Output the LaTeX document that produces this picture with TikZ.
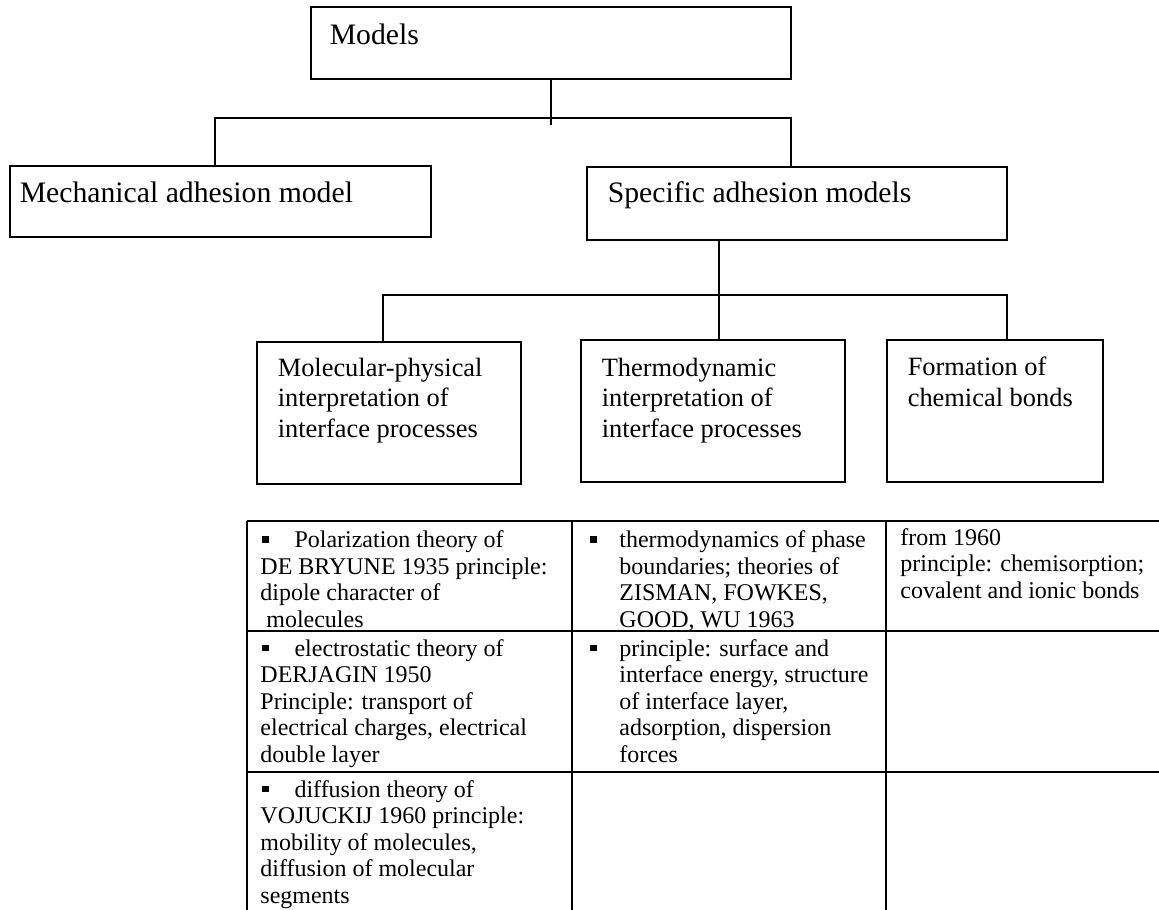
\documentclass[tikz,border=0pt]{standalone}
\usepackage{fontspec}
\setmainfont{Liberation Serif}
\usetikzlibrary{fit, positioning}
\tikzset{
	modelbox/.style={draw, line width=0.6pt, inner sep=0pt}
}
\tikzset{
	boxtext/.style={anchor=north west, inner sep=0pt, align=left, font=\fontsize{12}{14}\selectfont},
	toptext/.style={anchor=base west, inner sep=0pt, font=\fontsize{13.5}{15.5}\selectfont}
}
\tikzset{
	celltext/.style={anchor=north west, inner sep=0pt, align=left, font=\fontsize{10.9}{12.05}\selectfont}
}
\tikzset{
	link/.style={line width=0.6pt}
}
\newcommand{\sqbul}{\rule[2.3pt]{3pt}{3pt}}
\newcommand{\leadbul}{\hspace*{0.9pt}\sqbul\hspace*{11.6pt}}
\newcommand{\hangbul}{\llap{\sqbul\hspace{10.4pt}}}

\begin{document}
\begin{tikzpicture}[x=0.4545pt, y=-0.4545pt]
      \useasboundingbox (0,0) rectangle (1159,909);
      \fill[white] (0,0) rectangle (1159,909);
      % boxes of the tree
      \node[modelbox, fit={(311,7) (791,79)}] (models) {};
      \node[modelbox, fit={(10,166) (431,237)}] (mech) {};
      \node[modelbox, fit={(587,167) (1007,240)}] (spec) {};
      \node[modelbox, fit={(257,342) (521,484)}] (molec) {};
      \node[modelbox, fit={(581,340) (845,482)}] (thermo) {};
      \node[modelbox, fit={(887,340) (1103,482)}] (form) {};
      \node[toptext] (modelstext) at ([shift={(19,38)}]models.north west) {Models};
      \node[toptext] (mechtext) at ([shift={(10,37)}]mech.north west) {Mechanical adhesion model};
      \node[toptext] (spectext) at ([shift={(21,36)}]spec.north west) {Specific adhesion models};
      \node[boxtext] (molectext) at ([shift={(21,16)}]molec.north west) {Molecular-physical\\interpretation of\\interface processes};
      \node[boxtext] (thermotext) at ([shift={(21,18)}]thermo.north west) {Thermodynamic\\interpretation of\\interface processes};
      \node[boxtext] (formtext) at ([shift={(21,17)}]form.north west) {Formation of\\chemical bonds};
      % branch points
      \coordinate (hubtop) at (551,118);
      \coordinate (stubtop) at (551,125);
      \coordinate (lefttop) at (215,118);
      \coordinate (righttop) at (791,118);
      \coordinate (hubbot) at (719,295);
      \coordinate (leftbot) at (383,295);
      \coordinate (rightbot) at (1007,295);
      \draw[link] (models.south -| hubtop) -- (stubtop);
      \draw[link] (mech.north -| lefttop) -- (lefttop) -- (righttop) -- (spec.north -| righttop);
      \draw[link] (spec.south -| hubbot) -- (thermo.north -| hubbot);
      \draw[link] (molec.north -| leftbot) -- (leftbot) -- (rightbot) -- (form.north -| rightbot);
      % table below, runs off the right and bottom edge
      \draw[link] (247,521) -- (1170,521);
      \draw[link] (247,631) -- (1170,631);
      \draw[link] (247,772) -- (1170,772);
      \draw[link] (247,521) -- (247,915);
      \draw[link] (572,521) -- (572,915);
      \draw[link] (886,521) -- (886,915);
      \node[celltext] (polar) at (260,530.5) {\leadbul Polarization theory of\\DE BRYUNE 1935 principle:\\dipole character of\\\hspace*{2.7pt}molecules};
      \node[celltext] (electro) at (260,639) {\leadbul electrostatic theory of\\DERJAGIN 1950\\Principle: transport of\\electrical charges, electrical\\double layer};
      \node[celltext] (diffus) at (260,780) {\leadbul diffusion theory of\\VOJUCKIJ 1960 principle:\\mobility of molecules,\\diffusion of molecular\\segments};
      \node[celltext] (phase) at (619,530.5) {\hangbul thermodynamics of phase\\boundaries; theories of\\ZISMAN, FOWKES,\\GOOD, WU 1963};
      \node[celltext] (surface) at (619,639) {\hangbul principle: surface and\\interface energy, structure\\of interface layer,\\adsorption, dispersion\\forces};
      \node[celltext] (chemi) at (900,528) {from 1960\\principle: chemisorption;\\covalent and ionic bonds};
\end{tikzpicture}
\end{document}
